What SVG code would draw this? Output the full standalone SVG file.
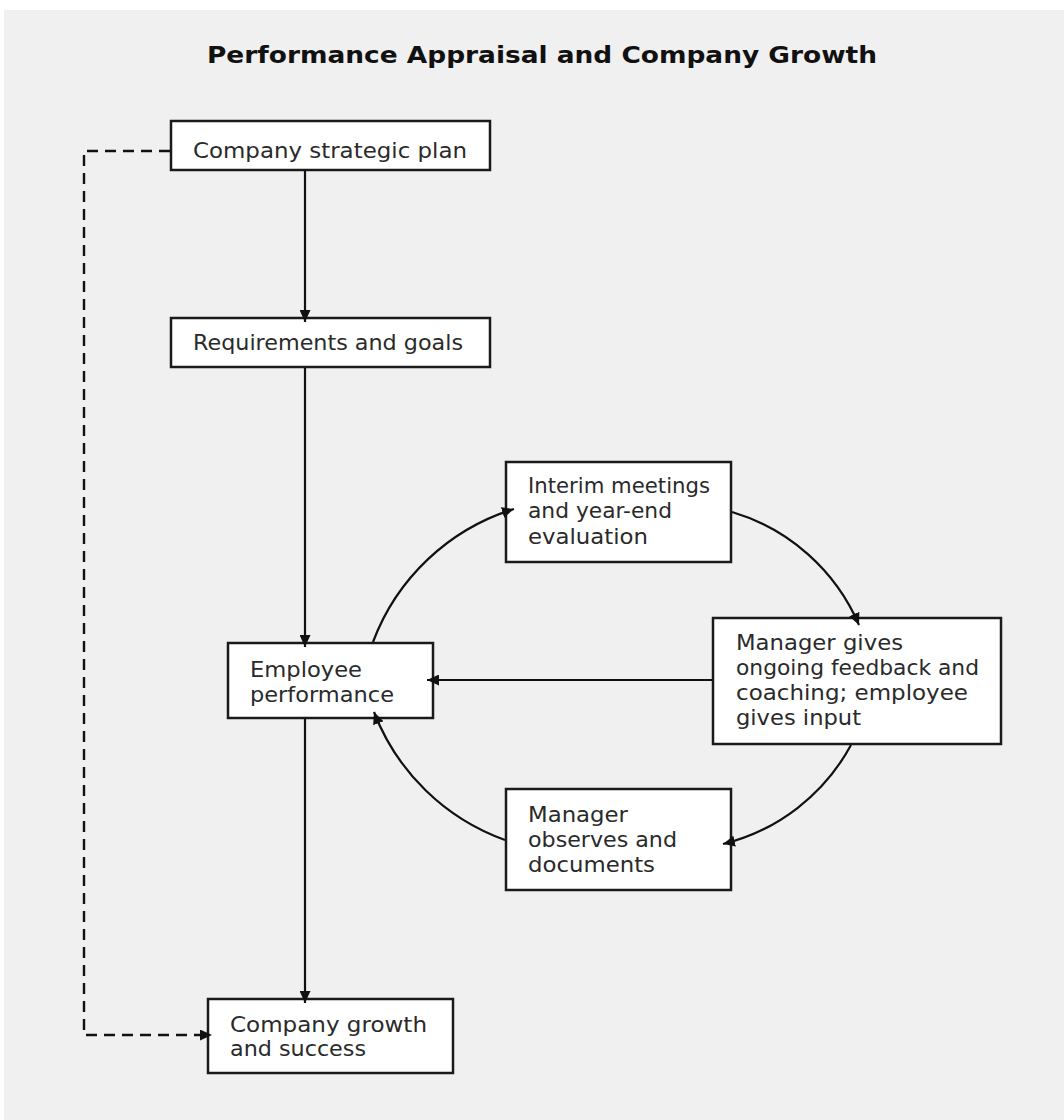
<svg xmlns="http://www.w3.org/2000/svg" width="1064" height="1120" viewBox="0 0 1064 1120">
<style>
.box{fill:#fff;stroke:#1a1a1a;stroke-width:2.5}
.t{font-family:"DejaVu Sans","Liberation Sans",sans-serif;font-size:21px;fill:#2a2a2a}
.title{font-family:"DejaVu Sans","Liberation Sans",sans-serif;font-size:23px;font-weight:bold;fill:#111}
.ln{fill:none;stroke:#111;stroke-width:2.2}
.dash{fill:none;stroke:#111;stroke-width:2.4;stroke-dasharray:11 7}
</style>
<defs>
<marker id="ah" markerUnits="userSpaceOnUse" markerWidth="13" markerHeight="11" refX="12" refY="5.5" orient="auto">
<path d="M0,0 L12,5.5 L0,11 z" fill="#111"/>
</marker>
</defs>
<rect x="0" y="0" width="1064" height="1120" fill="#fff"/>
<rect x="4" y="10" width="1060" height="1110" fill="#f0f0f0"/>
<text class="title" x="207" y="63" textLength="670" lengthAdjust="spacingAndGlyphs">Performance Appraisal and Company Growth</text>

<g id="n1">
<rect class="box" x="171" y="121" width="319" height="49"/>
<text class="t" x="193" y="158" textLength="274" lengthAdjust="spacingAndGlyphs">Company strategic plan</text>
</g>
<g id="n2">
<rect class="box" x="171" y="318" width="319" height="49"/>
<text class="t" x="193" y="350" textLength="270" lengthAdjust="spacingAndGlyphs">Requirements and goals</text>
</g>
<g id="n3">
<rect class="box" x="506" y="462" width="225" height="100"/>
<text class="t" x="528" y="493" textLength="182" lengthAdjust="spacingAndGlyphs">Interim meetings</text>
<text class="t" x="528" y="518" textLength="144" lengthAdjust="spacingAndGlyphs">and year-end</text>
<text class="t" x="528" y="544" textLength="120" lengthAdjust="spacingAndGlyphs">evaluation</text>
</g>
<g id="n4">
<rect class="box" x="228" y="643" width="205" height="75"/>
<text class="t" x="250" y="677" textLength="112" lengthAdjust="spacingAndGlyphs">Employee</text>
<text class="t" x="250" y="702" textLength="144" lengthAdjust="spacingAndGlyphs">performance</text>
</g>
<g id="n5">
<rect class="box" x="713" y="618" width="288" height="126"/>
<text class="t" x="736" y="650" textLength="167" lengthAdjust="spacingAndGlyphs">Manager gives</text>
<text class="t" x="736" y="675" textLength="243" lengthAdjust="spacingAndGlyphs">ongoing feedback and</text>
<text class="t" x="736" y="700" textLength="232" lengthAdjust="spacingAndGlyphs">coaching; employee</text>
<text class="t" x="736" y="725" textLength="125" lengthAdjust="spacingAndGlyphs">gives input</text>
</g>
<g id="n6">
<rect class="box" x="506" y="789" width="225" height="101"/>
<text class="t" x="528" y="822" textLength="100" lengthAdjust="spacingAndGlyphs">Manager</text>
<text class="t" x="528" y="847" textLength="149" lengthAdjust="spacingAndGlyphs">observes and</text>
<text class="t" x="528" y="872" textLength="127" lengthAdjust="spacingAndGlyphs">documents</text>
</g>
<g id="n7">
<rect class="box" x="208" y="999" width="245" height="74"/>
<text class="t" x="230" y="1032" textLength="197" lengthAdjust="spacingAndGlyphs">Company growth</text>
<text class="t" x="230" y="1056" textLength="136" lengthAdjust="spacingAndGlyphs">and success</text>
</g>

<g id="connectors">
<path class="ln" d="M305,171 V322" marker-end="url(#ah)"/>
<path class="ln" d="M305,368 V647" marker-end="url(#ah)"/>
<path class="ln" d="M305,719 V1003" marker-end="url(#ah)"/>
<path class="ln" d="M712,680 H427" marker-end="url(#ah)"/>
<path class="ln" d="M373,642 A220 220 0 0 1 514,509" marker-end="url(#ah)"/>
<path class="ln" d="M732,512 A200 200 0 0 1 859,625" marker-end="url(#ah)"/>
<path class="ln" d="M851,745 A200 200 0 0 1 723,844" marker-end="url(#ah)"/>
<path class="ln" d="M505,840 A220 220 0 0 1 374,712" marker-end="url(#ah)"/>
<path class="dash" d="M170,151 H84 V1035 H212" marker-end="url(#ah)"/>
</g>
</svg>
